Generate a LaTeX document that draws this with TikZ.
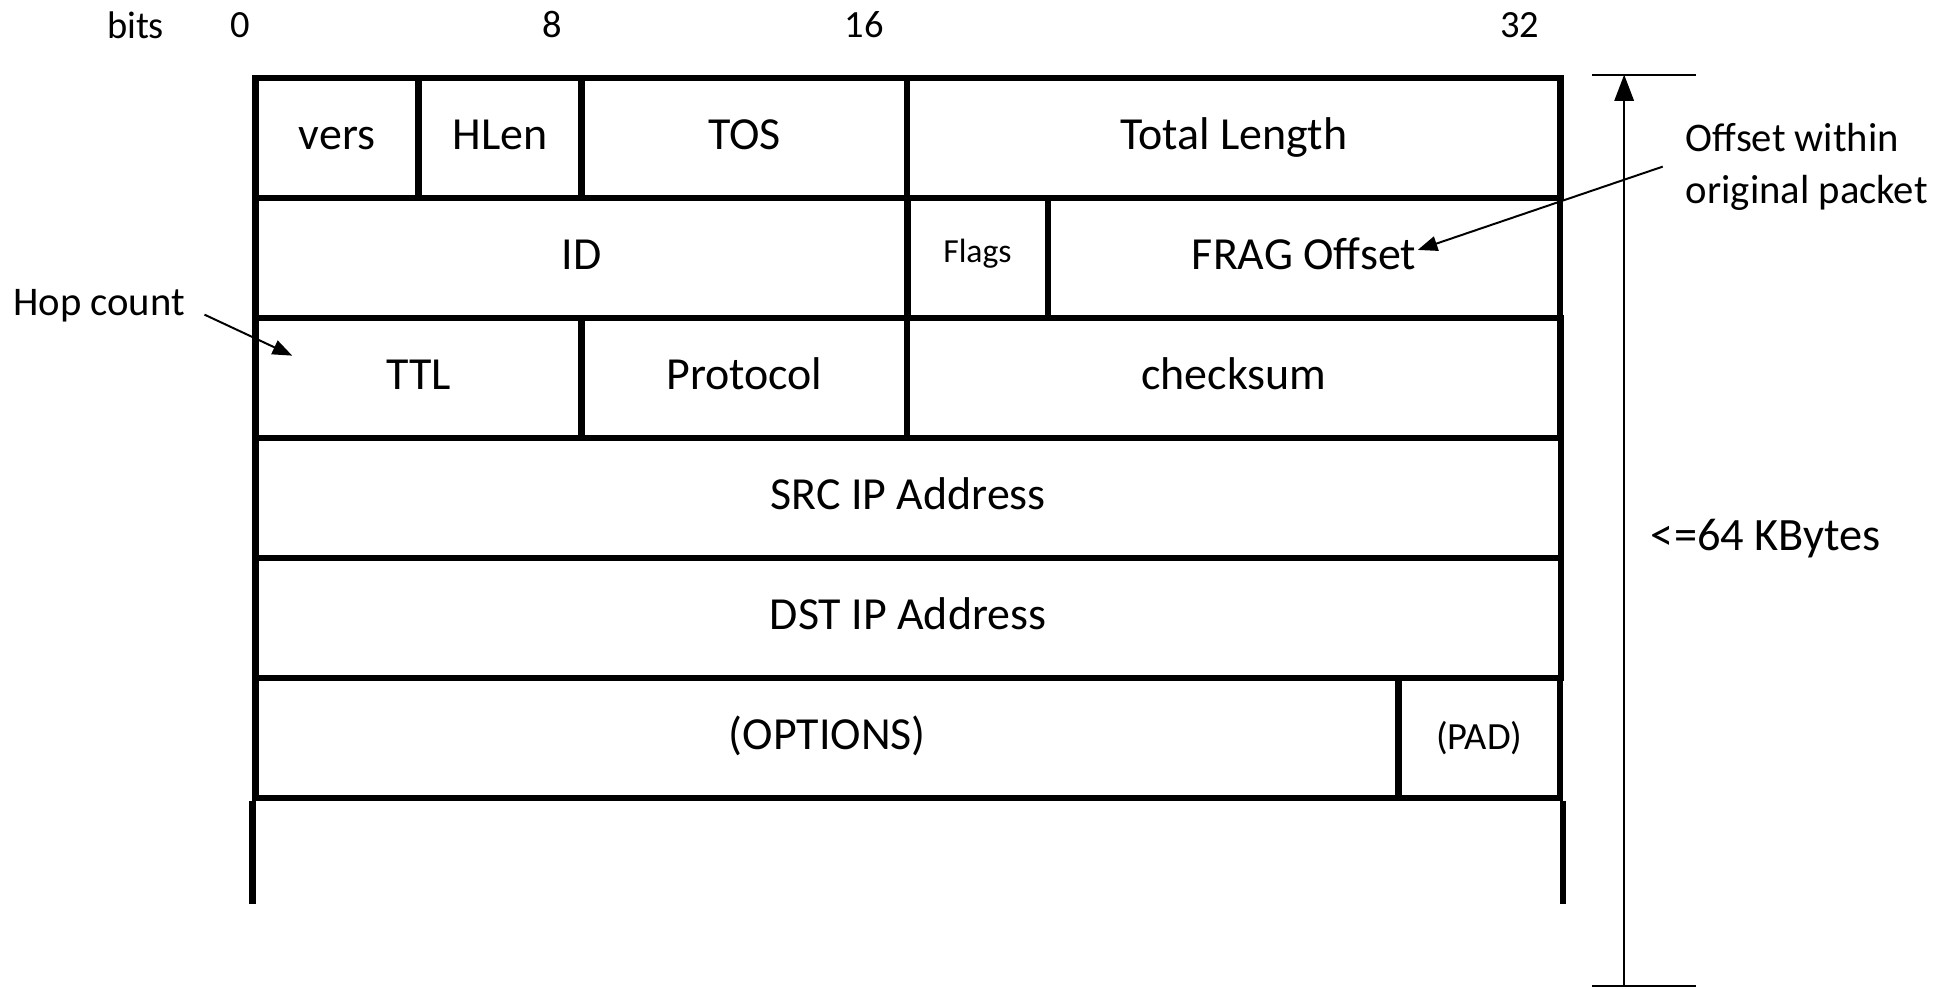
\documentclass[tikz,border=0pt]{standalone}
\usepackage{fontspec}
\setmainfont{Carlito}
\usetikzlibrary{arrows.meta}
\begin{document}
\begin{tikzpicture}[x=0.01cm,y=-0.01cm,
  cell/.style={draw, line width=1.4pt, anchor=north west, inner sep=0pt,
    minimum height=0.965cm, text height=1.55ex, text depth=0.45ex,
    font=\fontsize{10.5}{12}\selectfont},
  bitlabel/.style={font=\fontsize{8.8}{10}\selectfont},
  note/.style={inner sep=0pt, font=\fontsize{9.3}{11.9}\selectfont},
  pointer/.style={line width=0.45pt, -{Triangle[length=4.5pt,width=3.4pt]}},
  thinline/.style={line width=0.5pt},
]
\useasboundingbox (0,0) rectangle (1568,795);

% bit scale
\node[bitlabel] (bits) at (109,20) {bits};
\node[bitlabel] (b0)  at (193,20) {0};
\node[bitlabel] (b8)  at (444,20) {8};
\node[bitlabel] (b16) at (695,20) {16};
\node[bitlabel] (b32) at (1222,20) {32};

% row 1
\node[cell, minimum width=1.31cm] (vers)  at (203,60) {vers};
\node[cell, minimum width=1.31cm] (hlen)  at (334,60) {HLen};
\node[cell, minimum width=2.62cm] (tos)   at (465,60) {TOS};
\node[cell, minimum width=5.25cm] (total) at (727,60) {Total Length};
% row 2
\node[cell, minimum width=5.24cm] (id)    at (203,156.5) {ID};
\node[cell, minimum width=1.13cm, font=\fontsize{7.7}{9}\selectfont,
      text height=1.45ex, text depth=0.95ex] (flags) at (727,156.5) {Flags};
\node[cell, minimum width=4.12cm] (frag)  at (840,156.5) {FRAG Offset};
% row 3
\node[cell, minimum width=2.62cm] (ttl)   at (203,253) {TTL};
\node[cell, minimum width=2.62cm] (proto) at (465,253) {Protocol};
\node[cell, minimum width=5.25cm] (chk)   at (727,253) {checksum};
% rows 4 and 5
\node[cell, minimum width=10.49cm] (src)  at (203,349.5) {SRC IP Address};
\node[cell, minimum width=10.49cm] (dst)  at (203,446) {DST IP Address};
% row 6
\node[cell, minimum width=9.19cm] (opt)   at (203,542.5) {(OPTIONS)};
\node[cell, minimum width=1.30cm, font=\fontsize{8.8}{10}\selectfont] (pad) at (1122,542.5) {(PAD)};

% open-ended data area
\draw[line width=1.4pt] (opt.south west) -- ++(0,83);
\draw[line width=1.4pt] (pad.south east) -- ++(0,83);

% total size dimension
\coordinate (dtop) at (1306,60);
\coordinate (dbot) at (1306,793);
\draw[thinline] (1280,60) -- (1364,60);
\draw[thinline] (1280,793) -- (1364,793);
\draw[line width=0.55pt, -{Triangle[length=6pt,width=4.4pt]}] (dbot) -- (dtop);
\node[font=\fontsize{10.6}{12}\selectfont] (size) at (1420,433) {<=64 KBytes};

% annotations
\node[note, align=left, anchor=west] (offnote) at (1355,134) {Offset within\\original packet};
\coordinate (fragtip) at (1140,201);
\draw[pointer] ([xshift=-0.18cm]offnote.west) -- (fragtip);

\node[note, anchor=west] (hop) at (10,246) {Hop count};
\coordinate (hoptip) at (235,286);
\draw[pointer] ([xshift=0.15cm,yshift=-0.07cm]hop.east) -- (hoptip);
\end{tikzpicture}
\end{document}
